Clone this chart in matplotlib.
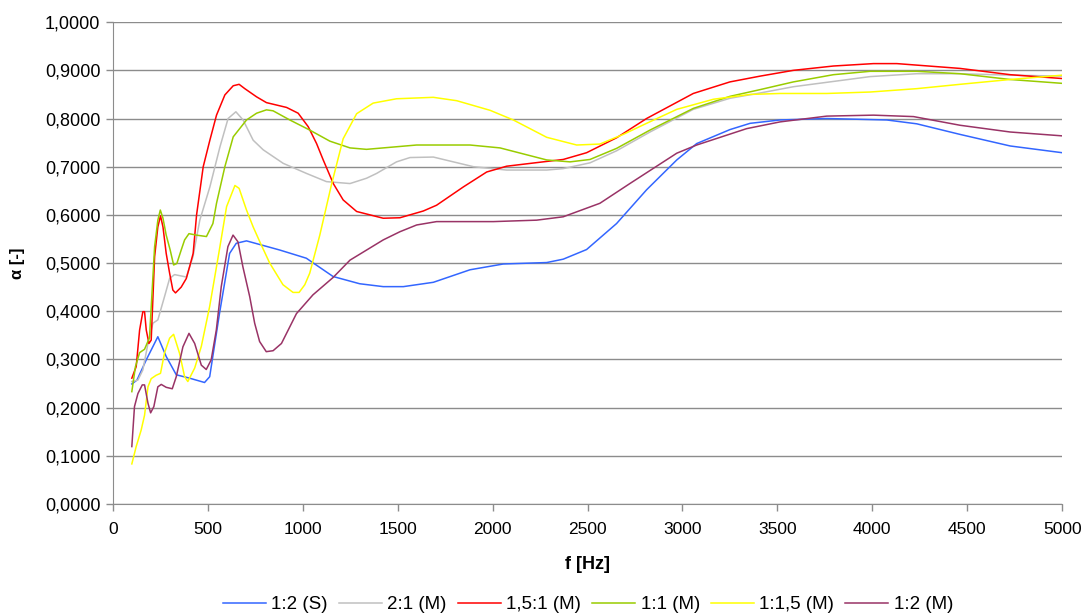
import matplotlib
matplotlib.use("Agg")
import matplotlib.pyplot as plt
import matplotlib.ticker as mticker

plt.rcParams["font.family"] = ["Liberation Sans", "DejaVu Sans"]

# ── 数据─────────────────────────────────────
f_blue = [100, 127, 176, 237, 281, 334, 404, 483, 510, 562, 615, 650, 704, 879, 1019, 1160,
          1300, 1424, 1530, 1688, 1881, 2056, 2285, 2372, 2495, 2653, 2811, 2970, 3075, 3250,
          3356, 3514, 3760, 4076, 4234, 4462, 4726, 5000]
a_blue = [0.249, 0.257, 0.299, 0.347, 0.306, 0.268, 0.261, 0.252, 0.264, 0.396, 0.520, 0.541,
          0.546, 0.527, 0.510, 0.472, 0.457, 0.451, 0.451, 0.460, 0.486, 0.498, 0.501, 0.508,
          0.528, 0.582, 0.652, 0.714, 0.748, 0.777, 0.790, 0.797, 0.800, 0.797, 0.789, 0.767,
          0.743, 0.729]

f_gray = [100, 132, 158, 185, 211, 237, 272, 299, 325, 387, 422, 458, 511, 564, 607, 648, 686,
          739, 792, 897, 1020, 1125, 1249, 1336, 1389, 1494, 1565, 1688, 1899, 2074, 2285, 2372,
          2513, 2653, 2829, 3057, 3250, 3409, 3584, 3988, 4234, 4462, 4726, 5000]
a_gray = [0.254, 0.257, 0.278, 0.333, 0.375, 0.382, 0.430, 0.468, 0.476, 0.471, 0.513, 0.589,
          0.658, 0.741, 0.800, 0.814, 0.797, 0.755, 0.735, 0.707, 0.686, 0.669, 0.665, 0.676,
          0.686, 0.710, 0.719, 0.720, 0.700, 0.693, 0.693, 0.696, 0.708, 0.733, 0.772, 0.819,
          0.842, 0.853, 0.866, 0.887, 0.893, 0.893, 0.890, 0.888]

f_red = [100, 123, 141, 158, 167, 176, 190, 202, 220, 237, 251, 264, 281, 299, 316, 330, 360,
         387, 404, 423, 441, 476, 511, 546, 590, 634, 665, 695, 757, 809, 862, 915, 976, 1029,
         1073, 1108, 1161, 1213, 1284, 1424, 1512, 1635, 1705, 1846, 1969, 2074, 2372, 2495,
         2653, 2811, 3057, 3250, 3409, 3584, 3795, 4006, 4129, 4462, 4726, 5000]
a_red = [0.261, 0.285, 0.361, 0.399, 0.399, 0.361, 0.333, 0.340, 0.513, 0.575, 0.598, 0.575,
         0.520, 0.479, 0.444, 0.438, 0.450, 0.468, 0.492, 0.520, 0.600, 0.700, 0.755, 0.807,
         0.849, 0.868, 0.871, 0.862, 0.845, 0.833, 0.828, 0.823, 0.811, 0.783, 0.748, 0.714,
         0.665, 0.631, 0.607, 0.593, 0.594, 0.608, 0.620, 0.658, 0.689, 0.701, 0.715, 0.729,
         0.760, 0.800, 0.852, 0.876, 0.888, 0.900, 0.909, 0.914, 0.914, 0.904, 0.891, 0.883]

f_green = [100, 119, 141, 167, 193, 220, 237, 250, 264, 281, 302, 320, 337, 360, 378, 401, 439,
           493, 527, 546, 590, 634, 704, 757, 809, 844, 932, 1037, 1143, 1249, 1336, 1600, 1881,
           2039, 2285, 2408, 2513, 2653, 2829, 3057, 3250, 3409, 3584, 3795, 3988, 4234, 4462,
           4726, 5000]
a_green = [0.233, 0.285, 0.314, 0.321, 0.345, 0.534, 0.589, 0.610, 0.593, 0.558, 0.527, 0.496,
           0.499, 0.527, 0.548, 0.561, 0.558, 0.555, 0.582, 0.624, 0.700, 0.762, 0.797, 0.811,
           0.818, 0.816, 0.797, 0.776, 0.753, 0.739, 0.736, 0.745, 0.745, 0.739, 0.714, 0.710,
           0.715, 0.738, 0.776, 0.821, 0.846, 0.860, 0.876, 0.891, 0.898, 0.898, 0.893, 0.881,
           0.873]

f_yellow = [100, 123, 149, 167, 185, 202, 228, 251, 272, 299, 320, 351, 378, 395, 431, 466, 510,
            558, 599, 643, 665, 704, 739, 773, 826, 896, 949, 981, 1011, 1037, 1090, 1151, 1213,
            1284, 1371, 1494, 1688, 1811, 1987, 2109, 2285, 2443, 2565, 2688, 2811, 2970, 3163,
            3356, 3514, 3760, 3988, 4234, 4462, 4726, 5000]
a_yellow = [0.083, 0.119, 0.153, 0.184, 0.243, 0.260, 0.267, 0.271, 0.313, 0.344, 0.352, 0.313,
            0.264, 0.254, 0.282, 0.327, 0.410, 0.520, 0.617, 0.661, 0.655, 0.610, 0.575, 0.545,
            0.500, 0.455, 0.439, 0.439, 0.455, 0.479, 0.558, 0.662, 0.758, 0.810, 0.832, 0.841,
            0.844, 0.837, 0.817, 0.797, 0.761, 0.745, 0.747, 0.767, 0.790, 0.819, 0.840, 0.850,
            0.852, 0.852, 0.855, 0.862, 0.871, 0.881, 0.890]

f_purple = [100, 114, 132, 155, 167, 185, 199, 216, 237, 255, 281, 313, 334, 369, 401, 431, 466,
            492, 518, 545, 571, 606, 633, 659, 685, 721, 747, 773, 808, 844, 888, 967, 1054, 1160,
            1249, 1424, 1512, 1600, 1705, 2004, 2232, 2372, 2565, 2723, 2970, 3075, 3338, 3514,
            3760, 4006, 4217, 4462, 4726, 5000]
a_purple = [0.119, 0.202, 0.229, 0.247, 0.247, 0.209, 0.189, 0.202, 0.243, 0.248, 0.242, 0.239,
            0.264, 0.326, 0.354, 0.333, 0.288, 0.279, 0.299, 0.361, 0.451, 0.534, 0.558, 0.544,
            0.492, 0.430, 0.375, 0.337, 0.316, 0.318, 0.333, 0.395, 0.434, 0.470, 0.506, 0.548,
            0.565, 0.579, 0.586, 0.586, 0.589, 0.596, 0.624, 0.665, 0.728, 0.745, 0.779, 0.793,
            0.805, 0.807, 0.804, 0.786, 0.772, 0.764]

labels = ["1:2 (S)", "2:1 (M)", "1,5:1 (M)", "1:1 (M)", "1:1,5 (M)", "1:2 (M)"]
colors = ["#3366FF", "#C0C0C0", "#FF0000", "#99CC00", "#FFFF00", "#993366"]

series = [(f_blue, a_blue), (f_gray, a_gray), (f_red, a_red),
          (f_green, a_green), (f_yellow, a_yellow), (f_purple, a_purple)]

# ── 绘图 ─────────────────────────────────────────────
fig = plt.figure(figsize=(10.85, 6.16), dpi=100)
ax = fig.add_axes([0.104, 0.182, 0.875, 0.782])

for (fx, ay), lab, col in zip(series, labels, colors):
    ax.plot(fx, ay, color=col, linewidth=1.1, label=lab)

ax.set_xlim(0, 5000)
ax.set_ylim(0, 1.0)
ax.xaxis.set_major_locator(mticker.MultipleLocator(500))
ax.yaxis.set_major_locator(mticker.MultipleLocator(0.1))
ax.yaxis.set_major_formatter(mticker.FuncFormatter(lambda v, p: f"{v:.4f}".replace(".", ",")))

grid_c = "#8c8c8c"
ax.grid(True, axis="y", color=grid_c, linewidth=1.0)
ax.set_axisbelow(True)
for s in ["top", "right"]:
    ax.spines[s].set_visible(False)
for s in ["left", "bottom"]:
    ax.spines[s].set_color(grid_c)
ax.tick_params(axis="both", colors=grid_c, labelcolor="black", length=5, width=1)
ax.tick_params(axis="y", labelsize=13, pad=4)
ax.tick_params(axis="x", labelsize=12.5, pad=8)

ax.set_xlabel("f [Hz]", fontsize=13, fontweight="bold", labelpad=14)
ax.set_ylabel("α [-]", fontsize=12, fontweight="bold", labelpad=14)

# 图例：底部，略偏右
fig.legend(loc="center", bbox_to_anchor=(0.542, 0.018), ncol=6, frameon=False, fontsize=13.5,
           handlelength=2.3, handletextpad=0.27, columnspacing=0.6)

fig.savefig("out.png", dpi=100)
